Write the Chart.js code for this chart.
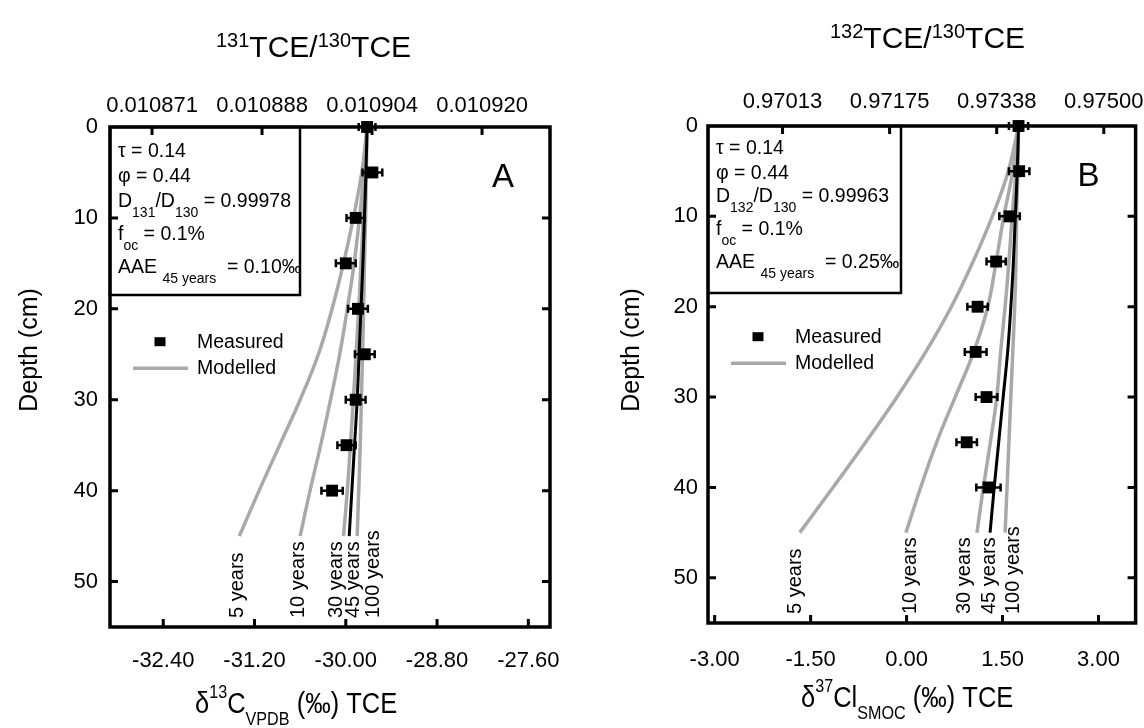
<!DOCTYPE html>
<html>
<head>
<meta charset="utf-8">
<script src="https://cdn.jsdelivr.net/npm/chart.js@4.4.0/dist/chart.umd.min.js"></script>
<style>
  html, body { margin: 0; padding: 0; background: #fff; }
  #wrap { position: relative; width: 1144px; height: 728px; }
  canvas { position: absolute; top: 0; }
  #chartA { left: 0; }
  #chartB { left: 572px; }
</style>
</head>
<body>
<div id="wrap">
  <canvas id="chartA" width="572" height="728"></canvas>
  <canvas id="chartB" width="572" height="728"></canvas>
</div>
<script>
// Depths (cm)
var depths = [0, 5, 10, 15, 20, 25, 30, 35, 40];
var modelDepths = [0, 5, 10, 15, 20, 25, 30, 35, 40, 45];
var depthTicks = [0, 10, 20, 30, 40, 50];
var modelLabels = ['5 years', '10 years', '30 years', '45 years', '100 years'];

// A - carbon isotopes of TCE
var d13C = [-29.72, -29.65, -29.87, -30.00, -29.84, -29.75, -29.87, -29.99, -30.18];
var d13CErr = [0.11, 0.13, 0.12, 0.13, 0.13, 0.13, 0.13, 0.12, 0.14];
var c13Model5 = [-29.72, -29.79, -29.90, -30.03, -30.18, -30.36, -30.60, -30.87, -31.14, -31.40];
var c13Model10 = [-29.72, -29.76, -29.82, -29.89, -29.98, -30.08, -30.20, -30.33, -30.47, -30.60];
var c13Model30 = [-29.72, -29.74, -29.77, -29.80, -29.83, -29.865, -29.90, -29.94, -29.98, -30.03];
var c13Model45 = [-29.72, -29.735, -29.755, -29.775, -29.80, -29.825, -29.85, -29.885, -29.92, -29.955];
var c13Model100 = [-29.72, -29.73, -29.74, -29.755, -29.765, -29.78, -29.795, -29.81, -29.83, -29.85];
var c13Ticks = [-32.40, -31.20, -30.00, -28.80, -27.60];
var ratio131Ticks = ['0.010871', '0.010888', '0.010904', '0.010920'];

// B - chlorine isotopes of TCE
var d37Cl = [1.75, 1.76, 1.61, 1.40, 1.11, 1.08, 1.25, 0.94, 1.28];
var d37ClErr = [0.15, 0.16, 0.16, 0.15, 0.16, 0.17, 0.17, 0.16, 0.19];
var cl37Model5 = [1.75, 1.59, 1.34, 1.04, 0.70, 0.30, -0.15, -0.64, -1.15, -1.67];
var cl37Model10 = [1.75, 1.66, 1.52, 1.40, 1.27, 1.05, 0.76, 0.47, 0.22, -0.01];
var cl37Model30 = [1.75, 1.71, 1.65, 1.60, 1.54, 1.47, 1.41, 1.31, 1.20, 1.10];
var cl37Model45 = [1.75, 1.73, 1.70, 1.67, 1.63, 1.58, 1.51, 1.44, 1.37, 1.305];
var cl37Model100 = [1.75, 1.74, 1.72, 1.71, 1.69, 1.66, 1.63, 1.60, 1.57, 1.54];
var cl37Ticks = [-3.00, -1.50, 0.00, 1.50, 3.00];
var ratio132Ticks = ['0.97013', '0.97175', '0.97338', '0.97500'];

var fam = "'Liberation Sans', Arial, Helvetica, sans-serif";
Chart.defaults.font.family = fam;
Chart.defaults.color = '#000';

function toPoints(xs, ys) {
  return xs.map(function (x, i) { return { x: x, y: ys[i] }; });
}

// text with super/subscripts: segs = [{t: '..', s: 'sup' | 'sub'}]
// squeeze < 1 narrows the glyphs horizontally
function drawRich(ctx, segs, x, y, big, small, supDy, subDy, squeeze) {
  ctx.save();
  ctx.translate(x, y);
  ctx.scale(squeeze || 1, 1);
  ctx.textAlign = 'left';
  ctx.textBaseline = 'alphabetic';
  var cx = 0;
  segs.forEach(function (sg) {
    ctx.font = (sg.s ? small : big) + 'px ' + fam;
    var dy = sg.s === 'sup' ? -supDy : (sg.s === 'sub' ? subDy : 0);
    ctx.fillText(sg.t, cx, dy);
    cx += ctx.measureText(sg.t).width;
  });
  ctx.restore();
}

var decor = {
  id: 'decor',
  beforeDatasetsDraw: function (chart, args, o) {
    var ctx = chart.ctx, a = chart.chartArea;
    var xs = chart.scales.x, x2 = chart.scales.x2, ys = chart.scales.y;
    ctx.save();
    ctx.strokeStyle = '#000';
    // parameter box
    ctx.lineWidth = 2.5;
    ctx.strokeRect(a.left, a.top, o.boxW, o.boxH);
    // frame
    ctx.lineWidth = 3.5;
    ctx.strokeRect(a.left, a.top, a.right - a.left, a.bottom - a.top);
    // inward tick marks
    ctx.lineWidth = 3;
    ctx.beginPath();
    xs.ticks.forEach(function (t) {
      var p = xs.getPixelForValue(t.value);
      ctx.moveTo(p, a.bottom); ctx.lineTo(p, a.bottom - 8);
    });
    x2.ticks.forEach(function (t) {
      var p = x2.getPixelForValue(t.value);
      ctx.moveTo(p, a.top); ctx.lineTo(p, a.top + 8);
    });
    ys.ticks.forEach(function (t) {
      if (t.value === 0) return;
      var p = ys.getPixelForValue(t.value);
      ctx.moveTo(a.left, p); ctx.lineTo(a.left + 8, p);
      ctx.moveTo(a.right, p); ctx.lineTo(a.right - 8, p);
    });
    ctx.stroke();
    ctx.restore();
  },
  afterDatasetsDraw: function (chart, args, o) {
    var ctx = chart.ctx, a = chart.chartArea;
    var xs = chart.scales.x, ys = chart.scales.y;
    ctx.save();
    // error bars on the measured points
    var m = chart.data.datasets[0];
    ctx.strokeStyle = '#000';
    ctx.lineWidth = 2.5;
    ctx.beginPath();
    m.data.forEach(function (pt, i) {
      var lo = xs.getPixelForValue(pt.x - m.errors[i]);
      var hi = xs.getPixelForValue(pt.x + m.errors[i]);
      var py = ys.getPixelForValue(pt.y);
      ctx.moveTo(lo, py); ctx.lineTo(hi, py);
      ctx.moveTo(lo, py - 4); ctx.lineTo(lo, py + 4);
      ctx.moveTo(hi, py - 4); ctx.lineTo(hi, py + 4);
    });
    ctx.stroke();
    // curve labels under the line ends
    ctx.fillStyle = '#000';
    ctx.font = '20px ' + fam;
    ctx.textAlign = 'left';
    ctx.textBaseline = 'middle';
    chart.data.datasets.forEach(function (ds) {
      if (!ds.endLabel) return;
      var last = ds.data[ds.data.length - 1];
      ctx.save();
      ctx.translate(xs.getPixelForValue(last.x) + ds.labelShift, a.bottom - 9);
      ctx.rotate(-Math.PI / 2);
      ctx.fillText(ds.endLabel, 0, 0);
      ctx.restore();
    });
    ctx.restore();
  },
  afterDraw: function (chart, args, o) {
    var ctx = chart.ctx, a = chart.chartArea;
    ctx.save();
    ctx.fillStyle = '#000';
    // parameter box text
    o.info.forEach(function (line, i) {
      drawRich(ctx, line, a.left + 8, a.top + o.infoY[i], 19.5, 14, 8, 10);
    });
    // panel letter
    ctx.font = '33px ' + fam;
    ctx.textAlign = 'right';
    ctx.textBaseline = 'alphabetic';
    ctx.fillText(o.letter, a.right - 36, a.top + 59.5);
    // legend
    var ly = a.top + o.legendY;
    ctx.fillRect(a.left + 44.5, ly - 4.5, 11, 9);
    ctx.strokeStyle = '#a9a9a9';
    ctx.lineWidth = 3.5;
    ctx.beginPath();
    ctx.moveTo(a.left + 23, ly + 26.5);
    ctx.lineTo(a.left + 78, ly + 26.5);
    ctx.stroke();
    ctx.font = '19.5px ' + fam;
    ctx.textAlign = 'left';
    ctx.fillText(chart.data.datasets[0].label, a.left + 87, ly + 6.6);
    ctx.fillText('Modelled', a.left + 87, ly + 32.3);
    // axis titles
    drawRich(ctx, o.topTitle, o.topTitleX, o.topTitleY, 30, 20, 10, 0, 1);
    drawRich(ctx, o.bottomTitle, o.bottomTitleX, o.bottomTitleY, 30, 19, 15, 12, 0.85);
    ctx.save();
    ctx.translate(o.yTitleX, 350);
    ctx.rotate(-Math.PI / 2);
    ctx.font = '25px ' + fam;
    ctx.textAlign = 'center';
    ctx.textBaseline = 'middle';
    ctx.fillText('Depth (cm)', 0, 0);
    ctx.restore();
    ctx.restore();
  }
};

function buildChart(id, p) {
  var datasets = [{
    label: 'Measured',
    data: toPoints(p.values, depths),
    errors: p.errors,
    showLine: false,
    pointStyle: 'rect',
    pointRadius: 8.4,
    pointHoverRadius: 8.4,
    backgroundColor: '#000',
    borderColor: '#000',
    borderWidth: 0,
    clip: false
  }];
  // black = best fit (45 years), grey = the other ages
  var order = [3, 0, 1, 2, 4];
  order.forEach(function (k) {
    datasets.push({
      label: modelLabels[k],
      endLabel: modelLabels[k],
      labelShift: p.labelShift[k],
      data: toPoints(p.models[k], modelDepths),
      showLine: true,
      tension: 0.4,
      pointRadius: 0,
      pointHoverRadius: 0,
      borderColor: k === 3 ? '#000' : '#a9a9a9',
      borderWidth: k === 3 ? 3 : 3.5,
      clip: false
    });
  });

  function fixSize(prop, size) {
    return function (scale) {
      scale[prop] = size;
      scale.paddingLeft = 0; scale.paddingRight = 0;
      scale.paddingTop = 0; scale.paddingBottom = 0;
    };
  }
  var tickFont = { size: 22 };

  return new Chart(document.getElementById(id), {
    type: 'scatter',
    data: { datasets: datasets },
    plugins: [decor],
    options: {
      responsive: false,
      animation: false,
      events: [],
      layout: { padding: { left: 0, right: p.padRight, top: 0, bottom: 0 } },
      plugins: {
        legend: { display: false },
        tooltip: { enabled: false },
        decor: p.decor
      },
      scales: {
        x: {
          type: 'linear', position: 'bottom',
          min: p.xMin, max: p.xMax,
          afterBuildTicks: function (s) { s.ticks = p.xTicks.map(function (v) { return { value: v }; }); },
          afterFit: fixSize('height', p.bottomH),
          grid: { display: false, drawTicks: false },
          border: { display: false },
          ticks: {
            autoSkip: false, maxRotation: 0, padding: p.bottomPad, font: tickFont,
            callback: function (v) { return v.toFixed(2); }
          }
        },
        x2: {
          type: 'linear', position: 'top',
          min: p.topMin, max: p.topMax,
          afterBuildTicks: function (s) { s.ticks = p.topTicks.map(function (v, i) { return { value: i }; }); },
          afterFit: fixSize('height', p.topH),
          grid: { display: false, drawTicks: false },
          border: { display: false },
          ticks: {
            autoSkip: false, maxRotation: 0, padding: p.topPad, font: tickFont,
            callback: function (v, i) { return p.topTicks[i]; }
          }
        },
        y: {
          type: 'linear', position: 'left', reverse: true,
          min: 0, max: 55,
          afterBuildTicks: function (s) { s.ticks = depthTicks.map(function (v) { return { value: v }; }); },
          afterFit: fixSize('width', p.leftW),
          grid: { display: false, drawTicks: false },
          border: { display: false },
          ticks: { autoSkip: false, padding: p.leftPad, font: tickFont }
        }
      }
    }
  });
}

var sub = function (t) { return { t: t, s: 'sub' }; };
var sup = function (t) { return { t: t, s: 'sup' }; };
var txt = function (t) { return { t: t }; };

buildChart('chartA', {
  values: d13C,
  errors: d13CErr,
  models: [c13Model5, c13Model10, c13Model30, c13Model45, c13Model100],
  labelShift: [-2, -1.7, -6.6, 4, 16],
  xTicks: c13Ticks, xMin: -33.10, xMax: -27.315,
  topTicks: ratio131Ticks, topMin: -0.382, topMax: 3.618,
  leftW: 110, topH: 127, bottomH: 101, padRight: 22,
  bottomPad: 21, topPad: 7.8, leftPad: 12,
  decor: {
    boxW: 190, boxH: 168,
    info: [
      [txt('τ = 0.14')],
      [txt('φ = 0.44')],
      [txt('D'), sub('131'), txt('/D'), sub('130'), txt(' = 0.99978')],
      [txt('f'), sub('oc'), txt(' = 0.1%')],
      [txt('AAE '), sub('45 years'), txt('  = 0.10‰')]
    ],
    infoY: [29.5, 54.5, 79.5, 112.5, 146],
    letter: 'A',
    legendY: 214.7,
    topTitle: [sup('131'), txt('TCE/'), sup('130'), txt('TCE')],
    topTitleX: 216, topTitleY: 57,
    bottomTitle: [txt('δ'), sup('13'), txt('C'), sub('VPDB'), txt(' (‰) TCE')],
    bottomTitleX: 195, bottomTitleY: 713,
    yTitleX: 30
  }
});

buildChart('chartB', {
  values: d37Cl,
  errors: d37ClErr,
  models: [cl37Model5, cl37Model10, cl37Model30, cl37Model45, cl37Model100],
  labelShift: [-4, 5, -12.6, -1, 8],
  xTicks: cl37Ticks, xMin: -3.104, xMax: 3.58,
  topTicks: ratio132Ticks, topMin: -0.696, topMax: 3.297,
  leftW: 136, topH: 126, bottomH: 105, padRight: 6,
  bottomPad: 24, topPad: 10.8, leftPad: 10,
  decor: {
    boxW: 193, boxH: 167,
    info: [
      [txt('τ = 0.14')],
      [txt('φ = 0.44')],
      [txt('D'), sub('132'), txt('/D'), sub('130'), txt(' = 0.99963')],
      [txt('f'), sub('oc'), txt(' = 0.1%')],
      [txt('AAE '), sub('45 years'), txt('  = 0.25‰')]
    ],
    infoY: [27.5, 52.5, 76, 108.5, 142],
    letter: 'B',
    legendY: 210.7,
    topTitle: [sup('132'), txt('TCE/'), sup('130'), txt('TCE')],
    topTitleX: 258, topTitleY: 48,
    bottomTitle: [txt('δ'), sup('37'), txt('Cl'), sub('SMOC'), txt(' (‰) TCE')],
    bottomTitleX: 229, bottomTitleY: 707,
    yTitleX: 60
  }
});
</script>
</body>
</html>
